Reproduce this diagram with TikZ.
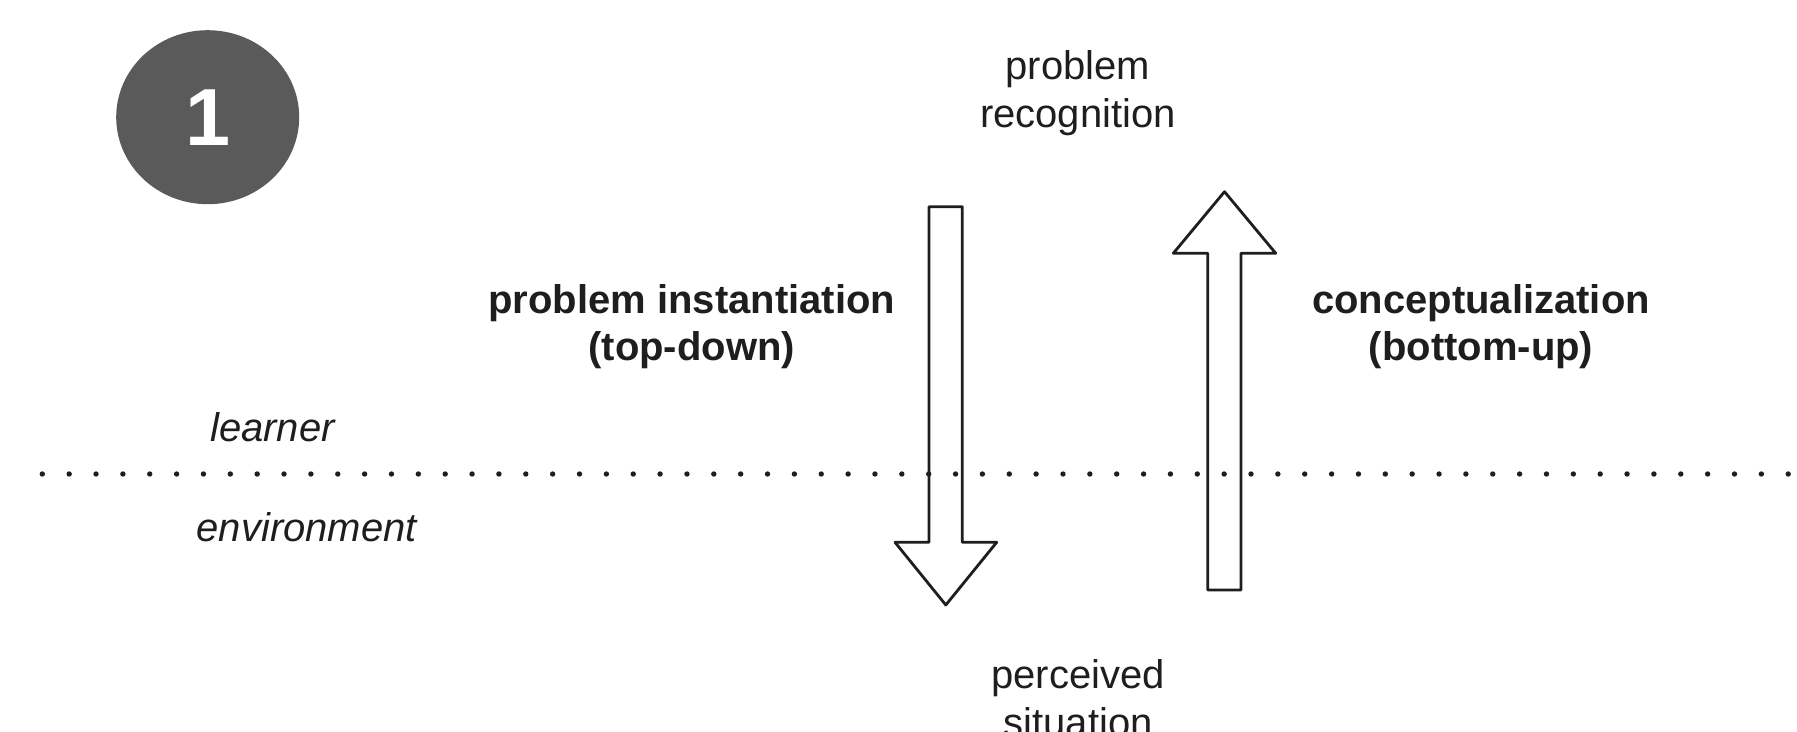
\documentclass[tikz,border=0pt]{standalone}
\usepackage{fontspec}
\setmainfont{Liberation Sans}
\usetikzlibrary{shapes.geometric}
\definecolor{badgegray}{HTML}{5A5A5A}
\definecolor{inkgray}{HTML}{1E1E1E}

\begin{document}
\begin{tikzpicture}[x=0.5pt,y=-0.5pt]
\tikzstyle{txt}=[inner sep=0pt,text=inkgray,align=center,font=\fontsize{20pt}{24pt}\selectfont]
\tikzstyle{boldtxt}=[txt,font=\fontsize{20pt}{24pt}\selectfont\bfseries]
\tikzstyle{sidetxt}=[txt,font=\fontsize{20pt}{24pt}\selectfont\itshape]
\tikzstyle{blockarrow}=[draw=inkgray,fill=white,line width=1.4pt,line join=round]
\useasboundingbox (0,0) rectangle (1797,732);

% step badge
\node[ellipse,fill=badgegray,minimum width=91.5pt,minimum height=87pt,inner sep=0pt,
  text=white,font=\fontsize{40.5pt}{48pt}\selectfont\bfseries] (badge) at (207.7,117.2) {1};

% top-down and bottom-up arrows
\draw[blockarrow] (929,206.7) -- (962.3,206.7) -- (962.3,542.3) -- (996.7,542.3)
  -- (945.8,605) -- (895,542.3) -- (929,542.3) -- cycle;
\draw[blockarrow] (1207.7,590) -- (1241,590) -- (1241,253.3) -- (1275.7,253.3)
  -- (1224.5,191.7) -- (1173.3,253.3) -- (1207.7,253.3) -- cycle;

% learner / environment boundary
\coordinate (lineL) at (42.3,474);
\coordinate (lineR) at (1797,474);
\draw[inkgray,line width=2.7pt,line cap=round,dash pattern=on 0pt off 13.43pt] (lineL) -- (lineR);

\node[sidetxt,anchor=base] (learner) at (272.5,441.7) {learner};
\node[sidetxt,anchor=base] (env) at (306.7,541.7) {environment};

% base anchor sits on the last line
\node[txt,anchor=base] (recog) at (1078,128) {problem\\recognition};
\node[txt,anchor=base] (percv) at (1078,736) {perceived\\situation};
\node[boldtxt,anchor=base] (inst) at (691.7,361) {problem instantiation\\(top-down)};
\node[boldtxt,anchor=base] (concept) at (1481,361) {conceptualization\\(bottom-up)};
\end{tikzpicture}
\end{document}
